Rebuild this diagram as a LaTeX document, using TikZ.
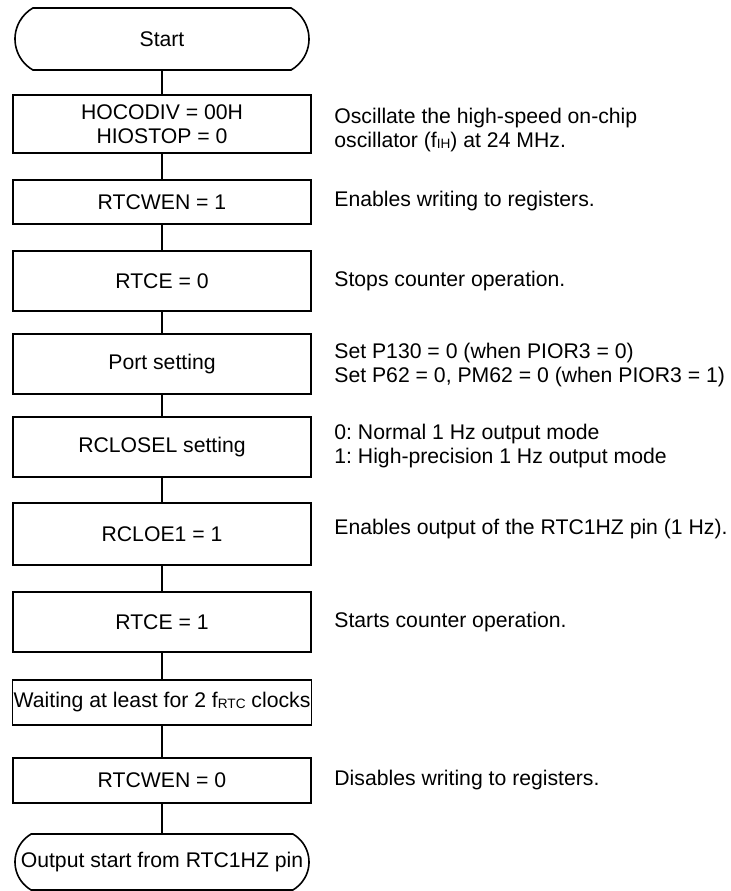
\documentclass[tikz,border=0pt]{standalone}
\usepackage{fontspec}
\setmainfont{Liberation Sans}
\usetikzlibrary{shapes.misc}
\frenchspacing
\newcommand{\smalltag}[1]{\raisebox{-0.3pt}{\fontsize{6.8}{7}\selectfont #1}}
\begin{document}
\begin{tikzpicture}[
      x=0.5pt, y=-0.5pt,
      every node/.style={font=\fontsize{10.6}{12.2}\selectfont},
      stepbox/.style={rectangle, draw=black, line width=0.8pt, minimum width=149pt, align=center, inner sep=0.5pt},
      termbox/.style={rounded rectangle, rounded rectangle arc length=120, draw=black, line width=0.8pt, minimum width=149pt, align=center, inner sep=1pt},
      note/.style={anchor=west, align=left, inner sep=0pt},
      link/.style={line width=0.8pt}
  ]
    \useasboundingbox (0,0) rectangle (731,891);

    \node[termbox, minimum height=31pt] (start) at (162,39) {Start};
    \node[stepbox, minimum height=29pt] (hoco) at (162,124) {HOCODIV = 00H\\HIOSTOP = 0};
    \node[stepbox, minimum height=22pt] (wen1) at (162,202) {RTCWEN = 1};
    \node[stepbox, minimum height=30pt] (rtce0) at (162,281) {RTCE = 0};
    \node[stepbox, minimum height=30pt] (port) at (162,364) {Port setting};
    \node[stepbox, minimum height=30pt] (closel) at (162,447) {RCLOSEL setting};
    \node[stepbox, minimum height=31pt] (cloe) at (162,534) {RCLOE1 = 1};
    \node[stepbox, minimum height=30pt] (rtce1) at (162,622) {RTCE = 1};
    \node[stepbox, minimum height=22.5pt] (wait) at (162,702.5) {Waiting at least for 2 f\smalltag{RTC} clocks};
    \node[stepbox, minimum height=22.5pt] (wen0) at (162,780.5) {RTCWEN = 0};
    \node[termbox, minimum height=28pt] (stop) at (162,862) {Output start from RTC1HZ pin};

    \foreach \a/\b in {start/hoco,hoco/wen1,wen1/rtce0,rtce0/port,port/closel,closel/cloe,cloe/rtce1,rtce1/wait,wait/wen0,wen0/stop} {
      \draw[link] (\a.south) -- (\b.north);
    }

    \node[note] (n1) at (334,130) {Oscillate the high-speed on-chip\\oscillator (f\smalltag{IH}) at 24 MHz.};
    \node[note] (n2) at (334,201) {Enables writing to registers.};
    \node[note] (n3) at (334,281) {Stops counter operation.};
    \node[note] (n4) at (334,365) {Set P130 = 0 (when PIOR3 = 0)\\Set P62 = 0, PM62 = 0 (when PIOR3 = 1)};
    \node[note] (n5) at (334,446) {0: Normal 1 Hz output mode\\1: High-precision 1 Hz output mode};
    \node[note] (n6) at (334,529) {Enables output of the RTC1HZ pin (1 Hz).};
    \node[note] (n7) at (334,622) {Starts counter operation.};
    \node[note] (n8) at (334,780) {Disables writing to registers.};
  \end{tikzpicture}
\end{document}
